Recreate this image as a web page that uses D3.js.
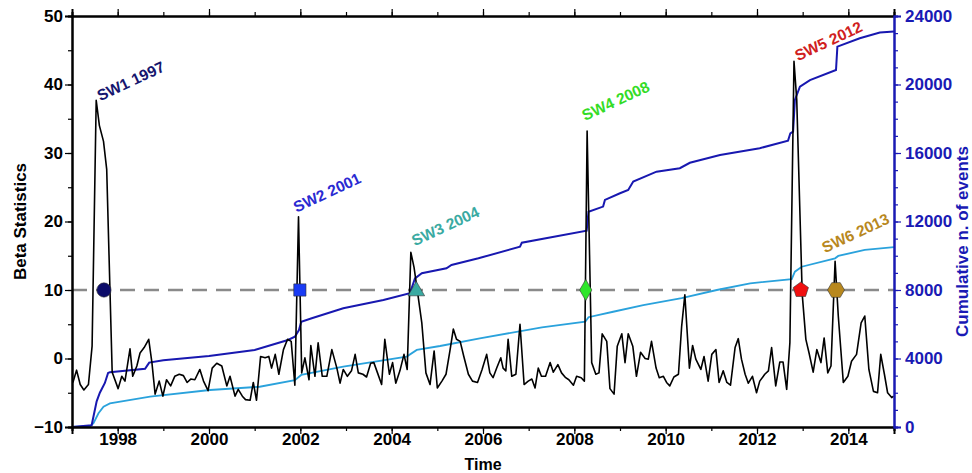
<!DOCTYPE html>
<html>
<head>
<meta charset="utf-8">
<script src="https://cdn.jsdelivr.net/npm/d3@7"></script>
<style>
  body { margin: 0; background: #fff; }
  svg text { font-family: "Liberation Sans", Arial, sans-serif; font-weight: bold; }
</style>
</head>
<body>
<svg id="chart" width="972" height="473"></svg>
<script>
// Beta statistics (monthly-ish samples)
const betaYears = [1997.02,1997.10,1997.18,1997.26,1997.36,1997.44,1997.53,1997.60,1997.69,1997.76,1997.88,
  1998.01,1998.09,1998.16,1998.27,1998.33,1998.42,1998.49,1998.58,1998.68,1998.75,1998.82,1998.91,1998.99,
  1999.07,1999.16,1999.25,1999.35,1999.44,1999.52,1999.60,1999.69,1999.80,1999.88,1999.98,
  2000.07,2000.17,2000.28,2000.39,2000.46,2000.57,2000.64,2000.73,2000.80,2000.90,2000.97,
  2001.04,2001.13,2001.23,2001.31,2001.37,2001.45,2001.53,2001.63,2001.72,2001.80,2001.88,2001.96,
  2002.03,2002.10,2002.19,2002.23,2002.32,2002.39,2002.48,2002.58,2002.69,2002.80,2002.87,2002.94,
  2003.03,2003.12,2003.20,2003.27,2003.37,2003.45,2003.54,2003.61,2003.69,2003.78,2003.85,2003.95,
  2004.02,2004.09,2004.18,2004.27,2004.34,2004.42,2004.49,2004.55,2004.66,2004.75,2004.84,2004.93,
  2005.00,2005.10,2005.19,2005.28,2005.35,2005.42,2005.50,2005.58,2005.68,2005.77,2005.88,2005.98,
  2006.08,2006.15,2006.22,2006.30,2006.39,2006.44,2006.50,2006.55,2006.63,2006.72,2006.81,2006.90,2006.99,
  2007.07,2007.14,2007.21,2007.28,2007.37,2007.47,2007.54,2007.64,2007.72,2007.81,2007.88,2007.98,
  2008.05,2008.15,2008.22,2008.28,2008.38,2008.47,2008.54,2008.61,2008.71,2008.78,2008.87,2008.94,
  2009.04,2009.11,2009.18,2009.28,2009.36,2009.45,2009.55,2009.62,2009.69,2009.79,2009.86,2009.95,
  2010.02,2010.09,2010.18,2010.28,2010.35,2010.42,2010.52,2010.59,2010.66,2010.77,2010.84,2010.93,
  2011.01,2011.10,2011.17,2011.26,2011.34,2011.42,2011.52,2011.59,2011.66,2011.74,2011.81,2011.90,2011.99,
  2012.06,2012.17,2012.25,2012.32,2012.41,2012.50,2012.57,2012.65,2012.72,2012.81,2012.87,2012.99,
  2013.07,2013.14,2013.23,2013.31,2013.40,2013.47,2013.55,2013.62,2013.71,2013.78,2013.89,2013.99,
  2014.07,2014.18,2014.28,2014.36,2014.45,2014.55,2014.64,2014.71,2014.79,2014.86,2014.95,2014.99];
const betaValues = [-3.5,-1.7,-3.8,-4.6,-3.8,1.8,37.7,34.0,31.7,27.6,-2.0,
  -4.4,-2.6,-3.3,1.4,-2.6,-1.1,0.8,1.6,2.8,-0.6,-5.2,-3.3,-5.5,
  -3.1,-4.0,-2.6,-2.3,-2.5,-3.5,-3.0,-3.1,-1.6,-3.3,-4.7,
  -1.4,-0.7,-1.1,-4.0,-2.6,-5.5,-4.5,-5.5,-6.0,-6.1,-3.5,
  -6.1,0.3,0.1,0.3,-1.4,0.6,-2.3,1.3,2.8,2.5,-3.9,20.7,
  -2.1,0.1,-3.1,1.9,-2.6,2.3,-2.6,-2.6,1.3,-1.4,-3.6,-1.6,
  -2.6,-1.8,0.6,-2.1,-2.3,-2.7,-0.7,-0.6,-2.1,-3.8,2.8,-2.3,
  -0.6,-3.6,-1.8,0.6,-1.6,15.5,13.3,10.5,5.2,-2.1,-3.8,1.1,
  -4.3,-3.3,-2.3,1.3,4.3,2.8,2.5,0.3,-2.3,-3.3,-3.5,-1.6,
  0.6,-2.1,-2.8,-1.4,0.1,-1.4,-1.8,2.8,-2.6,-2.3,5.0,-3.8,-3.3,
  -3.0,-4.3,-1.4,-2.6,-2.6,-0.6,-2.0,-0.9,-2.1,-2.8,-3.1,-3.9,
  -2.6,-2.8,-3.3,33.2,-0.6,-2.3,-2.1,3.6,2.5,-4.4,-5.2,1.8,
  3.6,-0.6,3.6,1.8,-2.6,0.9,0.0,-0.1,2.5,-1.4,-2.8,-2.6,
  -3.5,-4.0,-2.7,-2.3,4.7,9.3,-1.4,1.9,-0.1,-1.6,0.3,-3.3,
  0.6,1.3,-3.5,-1.8,-3.5,-3.9,1.6,2.9,-0.1,-2.3,-3.6,-2.6,-5.0,
  -3.3,-2.3,-1.8,1.6,-4.0,-0.5,-0.5,-4.5,2.3,43.4,37.8,9.4,
  2.8,0.8,-2.0,1.3,-0.6,3.0,-2.1,-1.1,14.2,6.2,-3.5,-2.6,
  -0.4,0.6,5.2,6.2,-1.6,-4.8,-5.0,0.6,-2.3,-5.0,-5.7,-5.5];

// Cumulative number of events, all events (dark blue)
const cumAllYears = [1997.00,1997.43,1997.54,1997.61,1997.72,1997.79,1997.83,1998.60,1998.65,1998.69,1999.00,
  2000.00,2001.00,2001.73,2001.88,2001.97,2002.02,2002.25,2002.94,2003.82,2004.40,2004.51,2004.66,
  2005.20,2005.31,2005.90,2006.81,2006.85,2008.27,2008.31,2008.63,2008.67,2009.00,2009.18,2009.29,
  2009.80,2010.31,2010.53,2011.19,2012.06,2012.68,2012.73,2012.79,2012.83,2012.94,2013.16,2013.73,
  2013.76,2014.25,2014.69,2015.00];
const cumAllValues = [0,100,1500,2000,2570,3150,3200,3400,3600,3760,3900,
  4150,4500,5080,5270,5660,6150,6350,6930,7420,7810,8680,8980,
  9270,9460,9850,10530,10760,11460,12570,12870,13260,13650,13840,14330,
  14910,15110,15430,15880,16280,16720,17150,17250,19100,19870,20260,20850,
  22210,22700,23030,23100];

// Cumulative number of events, second catalogue (light blue)
const cumSubYears = [1997.00,1997.40,1997.47,1997.58,1997.69,1997.83,1998.71,2000.02,2001.11,2001.88,2002.02,
  2002.94,2004.33,2004.55,2005.06,2005.93,2007.29,2008.24,2008.31,2008.85,2009.51,2010.35,2011.12,
  2011.85,2012.76,2012.83,2012.98,2013.71,2013.78,2014.36,2015.00];
const cumSubValues = [0,50,220,800,1190,1380,1770,2160,2350,2740,3040,
  3520,4110,4500,4730,5180,5820,6150,6410,6730,7120,7520,8000,
  8390,8630,9070,9360,9850,9990,10340,10500];

// Seismic swarms
const swarmNames = ["SW1 1997", "SW2 2001", "SW3 2004", "SW4 2008", "SW5 2012", "SW6 2013"];
const swarmYears = [1997.70, 2001.99, 2004.54, 2008.25, 2012.96, 2013.73];
const threshold = 10;

// Axis ticks
const leftTicks = [-10, 0, 10, 20, 30, 40, 50];
const rightTicks = [0, 4000, 8000, 12000, 16000, 20000, 24000];
const yearTicks = [1998, 2000, 2002, 2004, 2006, 2008, 2010, 2012, 2014];

// --- layout / style ---
const width = 972, height = 473;
const margin = {top: 16, right: 78, bottom: 46, left: 72};
const swarmColors = ["#0c0c6a", "#1a3cf5", "#3aaaa2", "#2ee62a", "#f01010", "#b8881e"];
const labelColors = ["#16166e", "#2a2ad2", "#3aaaa2", "#34dc26", "#d02020", "#b8881e"];
const darkBlue = "#1818b0", lightBlue = "#2aa2dc";

const svg = d3.select("#chart");

const x = d3.scaleLinear().domain([1997, 2015]).range([margin.left, width - margin.right]);
const yL = d3.scaleLinear().domain([-10, 50]).range([height - margin.bottom, margin.top]);
const yR = d3.scaleLinear().domain([0, 24000]).range([height - margin.bottom, margin.top]);

// dashed threshold line
svg.append("line")
  .attr("x1", x(1997)).attr("x2", x(2015))
  .attr("y1", yL(threshold)).attr("y2", yL(threshold))
  .attr("stroke", "#8a8a8a").attr("stroke-width", 2.5)
  .attr("stroke-dasharray", "15,9");

// cumulative curves
const cumLine = d3.line().x(d => x(d[0])).y(d => yR(d[1]));
svg.append("path")
  .datum(d3.zip(cumSubYears, cumSubValues))
  .attr("d", cumLine).attr("fill", "none")
  .attr("stroke", lightBlue).attr("stroke-width", 1.8);
svg.append("path")
  .datum(d3.zip(cumAllYears, cumAllValues))
  .attr("d", cumLine).attr("fill", "none")
  .attr("stroke", darkBlue).attr("stroke-width", 2);

// beta statistics
const betaLine = d3.line().x(d => x(d[0])).y(d => yL(d[1]));
svg.append("path")
  .datum(d3.zip(betaYears, betaValues))
  .attr("d", betaLine).attr("fill", "none")
  .attr("stroke", "#000").attr("stroke-width", 1.6)
  .attr("stroke-linejoin", "round");

// marker shapes
function polygon(n, r, rot) {
  const pts = d3.range(n).map(i => {
    const a = rot + i * 2 * Math.PI / n;
    return [r * Math.cos(a), r * Math.sin(a)];
  });
  return "M" + pts.join("L") + "Z";
}
const shapes = [
  d3.symbol(d3.symbolCircle, 160)(),
  d3.symbol(d3.symbolSquare, 150)(),
  d3.symbol(d3.symbolTriangle, 120)(),
  d3.symbol(d3.symbolDiamond, 130)(),
  polygon(5, 8, -Math.PI / 2),
  polygon(6, 8.5, 0)
];

svg.selectAll(".marker")
  .data(swarmYears)
  .enter()
  .append("path")
  .attr("class", "marker")
  .attr("d", (d, i) => shapes[i])
  .attr("transform", (d, i) => `translate(${x(d)},${yL(threshold) + (i == 2 ? 1 : 0)})`)
  .attr("fill", (d, i) => swarmColors[i])
  .attr("stroke", "#333").attr("stroke-width", 0.6);

// swarm labels, placed near the peak of beta around each swarm
const nudge = [[4, 1], [-2, -4], [4, -6], [-2, -10], [4, 0], [-10, -8]];
swarmYears.forEach((yr, i) => {
  let best = 0, bestX = yr;
  betaYears.forEach((t, j) => {
    if (Math.abs(t - yr) < 0.25 && betaValues[j] > best) { best = betaValues[j]; bestX = t; }
  });
  const px = x(bestX) + nudge[i][0], py = yL(best) + nudge[i][1];
  svg.append("text")
    .attr("transform", `translate(${px},${py}) rotate(-25)`)
    .attr("fill", labelColors[i])
    .style("font-size", "15.5px")
    .text(swarmNames[i]);
});

// axes
const bottom = height - margin.bottom;
const gx = svg.append("g").attr("transform", `translate(0,${bottom})`);
gx.call(d3.axisBottom(x).tickValues(d3.range(1997, 2016)).tickSize(4).tickFormat(""));
gx.append("g").call(d3.axisBottom(x).tickValues(yearTicks).tickSize(7).tickFormat(d3.format("d")));

const gt = svg.append("g").attr("transform", `translate(0,${margin.top})`);
gt.call(d3.axisTop(x).tickValues(d3.range(1997, 2016)).tickSize(4).tickFormat(""));
gt.append("g").call(d3.axisTop(x).tickValues(yearTicks).tickSize(7).tickFormat(""));

const gl = svg.append("g").attr("transform", `translate(${margin.left},0)`);
gl.call(d3.axisLeft(yL).tickValues(d3.range(-10, 51, 5)).tickSize(4).tickFormat(""));
gl.append("g").call(d3.axisLeft(yL).tickValues(leftTicks).tickSize(7).tickFormat(d => d < 0 ? "\u2212" + Math.abs(d) : d));

const gr = svg.append("g").attr("transform", `translate(${width - margin.right},0)`);
gr.call(d3.axisRight(yR).tickValues(d3.range(0, 24001, 1000)).tickSize(4).tickFormat(""));
gr.append("g").call(d3.axisRight(yR).tickValues(rightTicks).tickSize(7).tickFormat(d3.format("d")));

svg.selectAll(".domain").attr("stroke-width", 2);
svg.selectAll(".tick line").attr("stroke-width", 1.2);
svg.selectAll(".tick text").style("font-size", "17px").style("font-family", "Liberation Sans, Arial, sans-serif").style("font-weight", "bold");
gx.selectAll(".tick text").attr("y", 6).attr("dy", "0.72em");
gl.selectAll(".tick text").attr("x", -9);
gr.selectAll(".tick text").attr("x", 11);
gr.selectAll(".domain, .tick line").attr("stroke", "#1a1ab4");
gr.selectAll(".tick text").attr("fill", "#1a1ab4");

// axis titles
svg.append("text")
  .attr("x", x(2006)).attr("y", 470)
  .attr("text-anchor", "middle").style("font-size", "16px")
  .text("Time");

svg.append("text")
  .attr("transform", `translate(26,${yL(20)}) rotate(-90)`)
  .attr("text-anchor", "middle").style("font-size", "17px")
  .text("Beta Statistics");

svg.append("text")
  .attr("transform", `translate(968,${yR(12000) + 20}) rotate(-90)`)
  .attr("text-anchor", "middle").style("font-size", "17px")
  .attr("fill", "#1a1ab4")
  .text("Cumulative n. of events");
</script>
</body>
</html>
